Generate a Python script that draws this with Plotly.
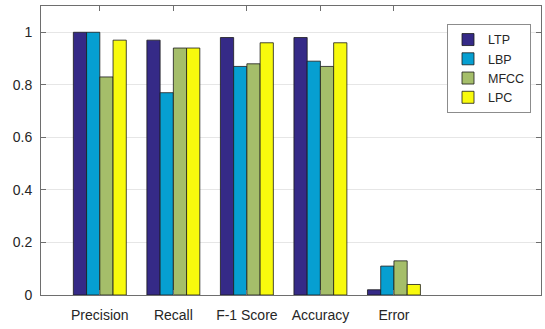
import plotly.graph_objects as go

categories = ["Precision", "Recall", "F-1 Score", "Accuracy", "Error"]
series_names = ["LTP", "LBP", "MFCC", "LPC"]
ltp = [1.00, 0.97, 0.98, 0.98, 0.02]
lbp = [1.00, 0.77, 0.87, 0.89, 0.11]
mfcc = [0.83, 0.94, 0.88, 0.87, 0.13]
lpc = [0.97, 0.94, 0.96, 0.96, 0.04]
y_ticks = [0, 0.2, 0.4, 0.6, 0.8, 1]
y_tick_text = ["0", "0.2", "0.4", "0.6", "0.8", "1"]

colors = ["#352a87", "#069fd1", "#a5be6a", "#f8fa0d"]
values = [ltp, lbp, mfcc, lpc]
xpos = list(range(1, len(categories) + 1))

fig = go.Figure()
for name, vals, col in zip(series_names, values, colors):
    fig.add_trace(go.Bar(
        x=xpos, y=vals, name=name,
        marker=dict(color=col, line=dict(color="#1a1a1a", width=0.8)),
    ))

font = "Liberation Sans, Arial, sans-serif"
fig.update_layout(
    width=545, height=329,
    margin=dict(l=41, r=4, t=6, b=34, autoexpand=False),
    paper_bgcolor="white", plot_bgcolor="white",
    barmode="group", bargap=0.28, bargroupgap=0,
    font=dict(family=font, size=14, color="#262626"),
    showlegend=True,
    legend=dict(
        x=0.812, y=0.938, xanchor="left", yanchor="top",
        bgcolor="white", bordercolor="#8c8c8c", borderwidth=1,
        font=dict(size=12.5, color="#262626"),
        itemwidth=30, tracegroupgap=2,
    ),
    xaxis=dict(
        range=[0.2, 7], tickvals=xpos, ticktext=categories,
        showline=True, linecolor="#6e6e6e", linewidth=1, mirror="ticks",
        ticks="inside", ticklen=5, tickcolor="#6e6e6e",
        showgrid=False, zeroline=False, ticklabelstandoff=7,
        automargin=False,
    ),
    yaxis=dict(
        range=[0, 1.1], tickvals=y_ticks, ticktext=y_tick_text,
        showline=True, linecolor="#6e6e6e", linewidth=1, mirror="ticks",
        ticks="inside", ticklen=5, tickcolor="#6e6e6e",
        showgrid=True, gridcolor="#e6e6e6", gridwidth=1,
        zeroline=False, ticklabelstandoff=5, automargin=False,
    ),
)

fig.write_html("out.html", config={"displayModeBar": False},
               post_script="document.body.style.margin='0';")
